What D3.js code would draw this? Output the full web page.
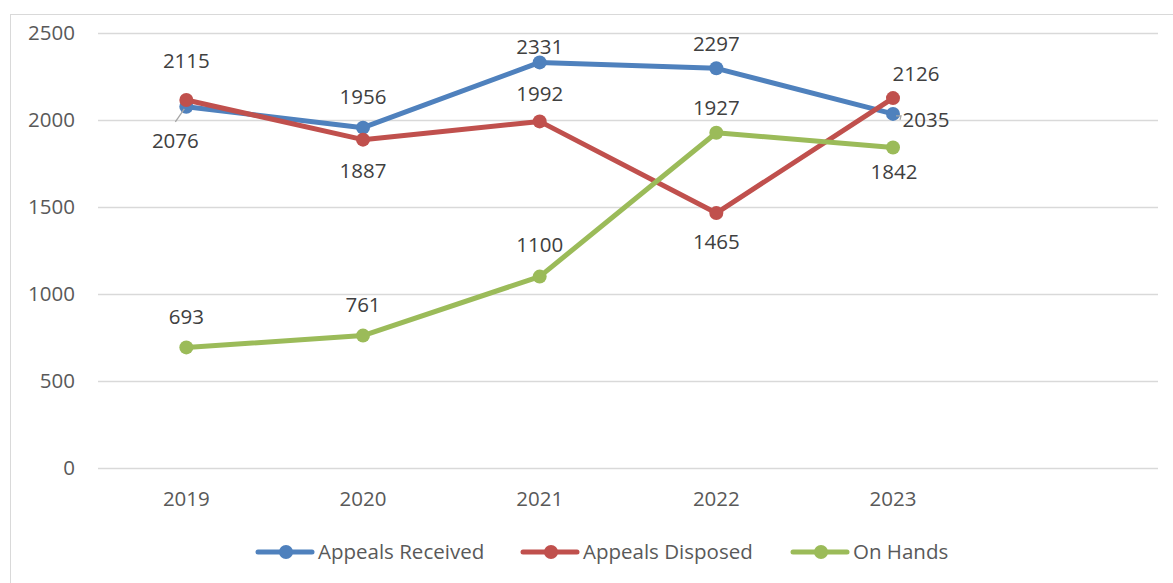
<!DOCTYPE html>
<html>
<head>
<meta charset="utf-8">
<script src="https://cdn.jsdelivr.net/npm/d3@7"></script>
<style>
  html, body { margin: 0; padding: 0; background: #fff; }
  svg { display: block; font-family: "Open Sans", "Liberation Sans", sans-serif; }
</style>
</head>
<body>
<svg id="chart" width="1173" height="583"></svg>
<script>
// --- data ---
const YEARS = ['2019', '2020', '2021', '2022', '2023', ''];   // last slot is empty in the original
const RECEIVED = [2076, 1956, 2331, 2297, 2035];
const DISPOSED = [2115, 1887, 1992, 1465, 2126];
const ON_HANDS = [693, 761, 1100, 1927, 1842];
const Y_TICKS = [0, 500, 1000, 1500, 2000, 2500];

const SERIES = [
  { name: 'Appeals Received', values: RECEIVED, color: '#4F81BD' },
  { name: 'Appeals Disposed', values: DISPOSED, color: '#C0504D' },
  { name: 'On Hands',         values: ON_HANDS, color: '#9BBB59' },
];

// label placement (offset of label centre from the point), hand-placed like the original
const LABEL_OFF = [
  [[-11, 34, true], [0, -31], [0, -16], [0, -24], [33, 6, true]],
  [[0, -39], [0, 31], [0, -28], [0, 29], [23, -24]],
  [[0, -31], [0, -31], [0, -32], [0, -25], [1, 24]],
];

const svg = d3.select('#chart');
const FS = 20.5;

// outer chart border
svg.append('rect')
  .attr('x', 10.5).attr('y', 14.5).attr('width', 1200).attr('height', 620)
  .attr('fill', 'none').attr('stroke', '#d9d9d9');

const x = d3.scaleBand().domain(YEARS.map((d, i) => i)).range([98, 1158]);
const y = d3.scaleLinear().domain([0, 2500]).range([468, 33]);
const cx = i => x(i) + x.bandwidth() / 2;

// gridlines
svg.append('g').selectAll('line').data(Y_TICKS).join('line')
  .attr('x1', 98).attr('x2', 1158)
  .attr('y1', d => Math.round(y(d)) + 0.5).attr('y2', d => Math.round(y(d)) + 0.5)
  .attr('stroke', '#d9d9d9').attr('stroke-width', 1.3);

// y tick labels
svg.append('g').selectAll('text').data(Y_TICKS).join('text')
  .attr('x', 75).attr('y', d => y(d)).attr('dy', '0.35em')
  .attr('text-anchor', 'end').attr('font-size', FS).attr('fill', '#595959')
  .text(d => d);

// x tick labels
svg.append('g').selectAll('text').data(YEARS).join('text')
  .attr('x', (d, i) => cx(i)).attr('y', 499).attr('dy', '0.35em')
  .attr('text-anchor', 'middle').attr('font-size', FS).attr('fill', '#595959')
  .text(d => d);

const line = d3.line().x((d, i) => cx(i)).y(d => y(d));

SERIES.forEach(s => {
  const g = svg.append('g');
  g.append('path').datum(s.values)
    .attr('fill', 'none').attr('stroke', s.color).attr('stroke-width', 5)
    .attr('stroke-linejoin', 'round').attr('d', line);
  g.selectAll('circle').data(s.values).join('circle')
    .attr('cx', (d, i) => cx(i)).attr('cy', d => y(d)).attr('r', 7)
    .attr('fill', s.color);
});

// data labels drawn on top of all lines
SERIES.forEach((s, si) => {
  const g = svg.append('g');
  s.values.forEach((v, i) => {
    const [dx, dy, leader] = LABEL_OFF[si][i];
    const px = cx(i), py = y(v);
    const lx = px + dx, ly = py + dy;
    if (leader) {
      // short gray leader line like Excel's moved labels
      const d = dx < 0
        ? `M${px - 2},${py + 2}L${lx},${ly - 19}`
        : `M${px + 3},${py + 2}L${px + 8},${py + 2}L${lx - 26},${ly}`;
      g.append('path').attr('d', d)
        .attr('fill', 'none').attr('stroke', '#a6a6a6').attr('stroke-width', 1.3);
    }
    g.append('text')
      .attr('x', lx).attr('y', ly).attr('dy', '0.35em')
      .attr('text-anchor', 'middle').attr('font-size', FS).attr('fill', '#404040')
      .text(v);
  });
});

// legend
const LEG = [258, 523, 793];
const leg = svg.append('g').attr('transform', 'translate(0,552)');
SERIES.forEach((s, i) => {
  const lg = leg.append('g').attr('transform', `translate(${LEG[i]},0)`);
  lg.append('line').attr('x1', 0).attr('x2', 54).attr('stroke', s.color)
    .attr('stroke-width', 5).attr('stroke-linecap', 'round');
  lg.append('circle').attr('cx', 28).attr('r', 7).attr('fill', s.color);
  lg.append('text').attr('x', 60).attr('dy', '0.35em')
    .attr('font-size', FS).attr('fill', '#595959').text(s.name);
});
</script>
</body>
</html>
